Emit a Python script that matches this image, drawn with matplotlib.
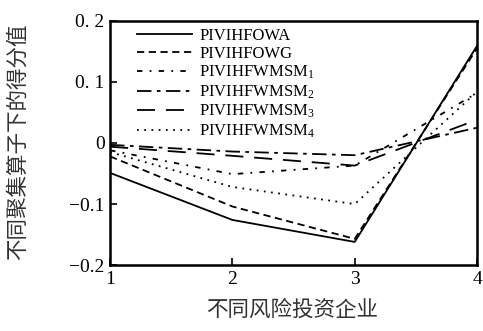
import matplotlib
matplotlib.use("Agg")
import matplotlib.pyplot as plt

x = [1, 2, 3, 4]
owa = [-0.049, -0.126, -0.162, 0.159]
owg = [-0.022, -0.104, -0.157, 0.155]
wmsm1 = [-0.012, -0.051, -0.037, 0.082]
wmsm2 = [-0.003, -0.014, -0.020, 0.025]
wmsm3 = [-0.006, -0.021, -0.037, 0.038]
wmsm4 = [-0.015, -0.072, -0.100, 0.084]
labels = ["PIVIHFOWA", "PIVIHFOWG", "PIVIHFWMSM$_1$", "PIVIHFWMSM$_2$",
          "PIVIHFWMSM$_3$", "PIVIHFWMSM$_4$"]
yticks = [-0.2, -0.1, 0, 0.1, 0.2]
yticklabels = ["\u22120.2", "\u22120.1", "0", "0. 1", "0. 2"]
xticks = [1, 2, 3, 4]

plt.rcParams['mathtext.fontset'] = 'custom'
plt.rcParams['mathtext.rm'] = 'Liberation Serif'
plt.rcParams['mathtext.it'] = 'Liberation Serif'

fig = plt.figure(figsize=(4.83, 3.31), dpi=100)
ax = fig.add_axes([0.228, 0.199, 0.7596, 0.738])

styles = ['-', (0, (4, 2.5)), (0, (3, 4, 1, 4)), (0, (8, 3, 2, 3)), (0, (10, 6)), (0, (1, 3))]
series = [owa, owg, wmsm1, wmsm2, wmsm3, wmsm4]
for s, ls, lab in zip(series, styles, labels):
    ax.plot(x, s, color='black', linestyle=ls, linewidth=1.3, label=lab)

ax.set_xlim(1, 4)
ax.set_ylim(-0.2, 0.2)
ax.set_xticks(xticks)
ax.set_xticklabels([str(v) for v in xticks], fontfamily='Liberation Serif', fontsize=14)
ax.set_yticks(yticks)
ax.set_yticklabels(yticklabels, fontfamily='Liberation Serif', fontsize=14)
ax.tick_params(direction='in', length=5, width=1.2, pad=4)
for sp in ax.spines.values():
    sp.set_linewidth(1.8)

fig.text(292 / 483, 1 - 310 / 331, "不同风险投资企业", fontfamily='Noto Sans CJK SC',
         fontsize=15.5, color='#333333', ha='center', va='center')
fig.text(18 / 483, 1 - 142 / 331, "不同聚集算子下的得分值", fontfamily='Noto Sans CJK SC',
         fontsize=15.5, color='#333333', ha='center', va='center', rotation=90)

leg = ax.legend(loc='upper left', frameon=False, prop={'family': 'Liberation Serif', 'size': 12},
                handlelength=3.3, handletextpad=0.45, labelspacing=0.13,
                borderaxespad=0.0, bbox_to_anchor=(0.055, 1.0))

fig.savefig("out.png", dpi=100)
